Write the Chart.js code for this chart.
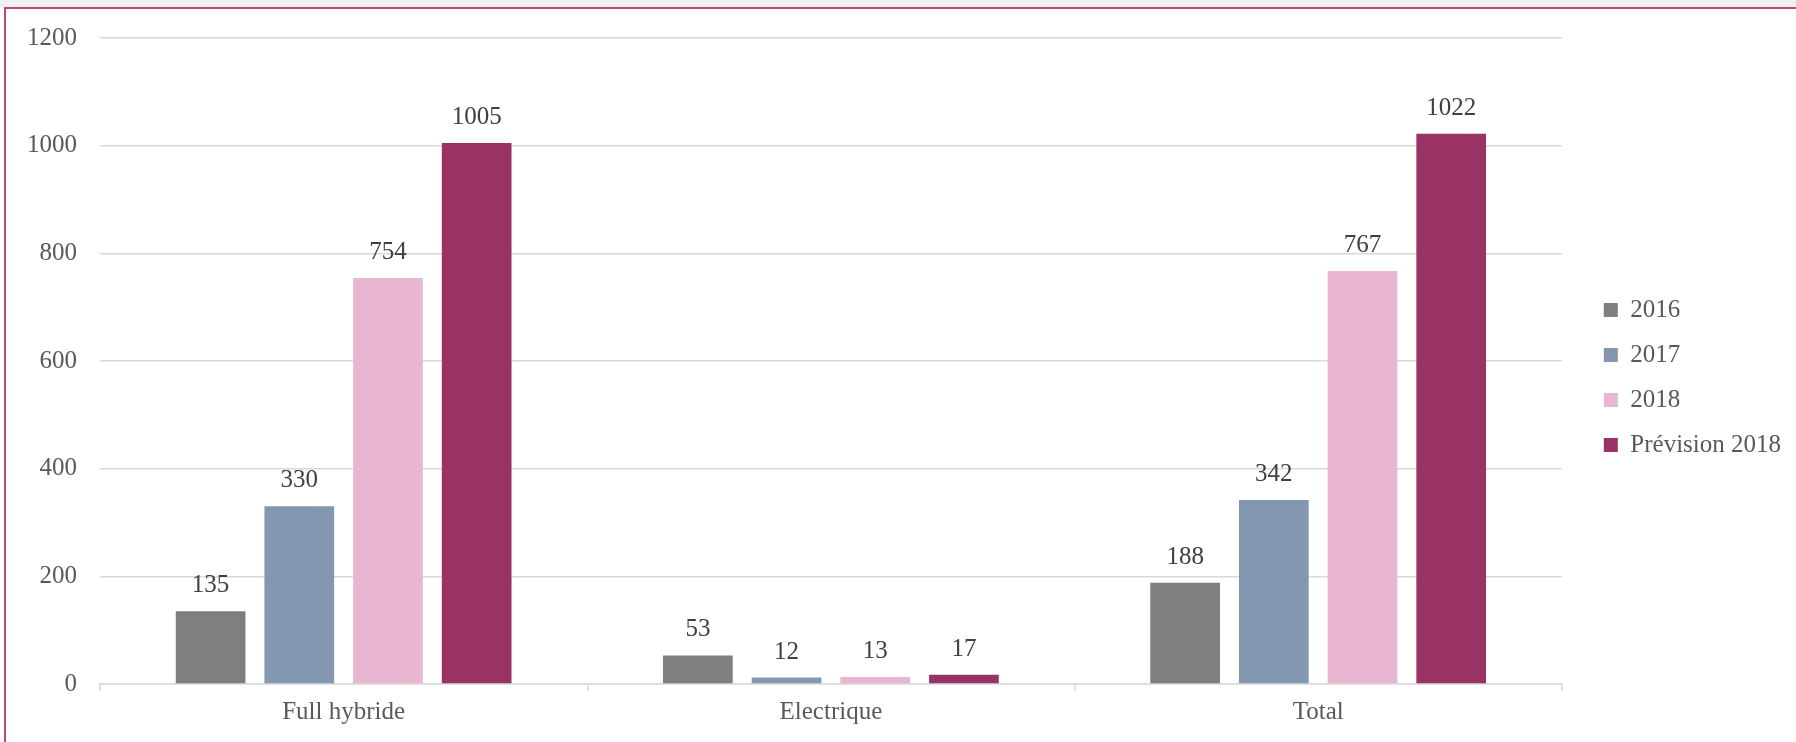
<!DOCTYPE html>
<html>
<head>
<meta charset="utf-8">
<script src="https://cdn.jsdelivr.net/npm/chart.js@4.4.1/dist/chart.umd.min.js"></script>
<style>
  html, body { margin: 0; padding: 0; background: #ffffff; overflow: hidden; }
  #strip { position: absolute; left: 0; top: 0; width: 1796px; height: 7px; background: #f0f0f0; }
  #frame { position: absolute; left: 4px; top: 7px; width: 1800px; height: 800px;
           border-top: 2px solid #b8467f; border-left: 2px solid #b8467f; }
  #c { position: absolute; left: 0; top: 0; }
</style>
</head>
<body>
<div id="strip"></div>
<div id="frame"></div>
<canvas id="c" width="1796" height="742"></canvas>
<script>
const categories = ["Full hybride", "Electrique", "Total"];
const seriesLabels = ["2016", "2017", "2018", "Prévision 2018"];
const values2016 = [135, 53, 188];
const values2017 = [330, 12, 342];
const values2018 = [754, 13, 767];
const valuesPrevision2018 = [1005, 17, 1022];
const yTicks = [0, 200, 400, 600, 800, 1000, 1200];
const colors = ["#7f7f7f", "#8497b0", "#e8b6d0", "#993366"];

const FONT = "'Liberation Serif', 'Times New Roman', serif";

const valueLabels = {
  id: 'valueLabels',
  afterDatasetsDraw(chart) {
    const ctx = chart.ctx;
    ctx.save();
    ctx.font = "25px " + FONT;
    ctx.fillStyle = "#404040";
    ctx.textAlign = "center";
    ctx.textBaseline = "alphabetic";
    chart.data.datasets.forEach((ds, i) => {
      const meta = chart.getDatasetMeta(i);
      meta.data.forEach((bar, j) => {
        ctx.fillText(String(ds.data[j]), bar.x, bar.y - 19);
      });
    });
    ctx.restore();
  }
};

const seriesData = [values2016, values2017, values2018, valuesPrevision2018];

new Chart(document.getElementById('c'), {
  type: 'bar',
  data: {
    labels: categories,
    datasets: seriesLabels.map((lab, i) => ({
      label: lab,
      data: seriesData[i],
      backgroundColor: colors[i],
      borderWidth: 0,
      categoryPercentage: 0.728,
      barPercentage: 0.786
    }))
  },
  options: {
    responsive: false,
    animation: false,
    devicePixelRatio: 1,
    layout: { padding: { left: 4, top: 22, right: 5, bottom: 9 } },
    plugins: {
      tooltip: { enabled: false },
      legend: {
        position: 'right',
        align: 'center',
        labels: {
          boxWidth: 14,
          boxHeight: 14,
          padding: 20,
          color: '#595959',
          font: { family: FONT, size: 25 }
        }
      }
    },
    scales: {
      x: {
        grid: { drawOnChartArea: false, drawTicks: true, tickLength: 7, color: '#d9d9d9', lineWidth: 1.5, offset: true },
        border: { display: true, color: '#d9d9d9', width: 1.5 },
        ticks: { color: '#595959', font: { family: FONT, size: 25 }, padding: 6 }
      },
      y: {
        min: 0,
        max: 1200,
        afterBuildTicks(scale) { scale.ticks = yTicks.map(v => ({ value: v })); },
        grid: { drawTicks: false, color: '#d9d9d9', lineWidth: 1.5 },
        border: { display: false },
        ticks: { color: '#595959', font: { family: FONT, size: 25 }, padding: 23,
                 callback: (v) => String(v) }
      },
      y2: {
        type: 'linear',
        position: 'right',
        display: true,
        grid: { display: false },
        border: { display: false },
        ticks: { display: false },
        afterFit(scale) { scale.width = 22; }
      }
    }
  },
  plugins: [valueLabels]
});
</script>
</body>
</html>
